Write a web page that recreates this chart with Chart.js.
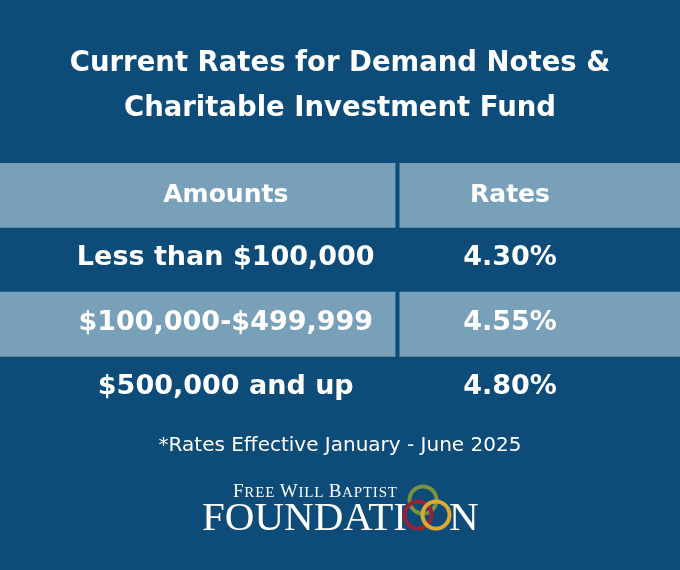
<!DOCTYPE html>
<html>
<head>
<meta charset="utf-8">
<script src="https://cdn.jsdelivr.net/npm/chart.js@4.4.1/dist/chart.umd.min.js"></script>
<style>
  html, body { margin: 0; padding: 0; background: #0d4b79; }
  #wrap { width: 680px; height: 570px; }
</style>
</head>
<body>
<div id="wrap"><canvas id="rateChart"></canvas></div>
<script>
// ---- data ----
const ROWS = ['header', 'tier1', 'tier2', 'tier3'];
const AMOUNTS = ['Amounts', 'Less than $100,000', '$100,000-$499,999', '$500,000 and up'];
const RATES = ['Rates', '4.30%', '4.55%', '4.80%'];
const TITLE_LINES = ['Current Rates for Demand Notes &', 'Charitable Investment Fund'];
const FOOTNOTE = '*Rates Effective January - June 2025';

// ---- layout / style ----
const BG = '#0d4b79';
const STRIPE = '#79a0b9';
const SPLIT = 0.581;      // left column end (fraction of width)
const GAP = 0.007;        // divider between the two columns
const AMT_CENTER = 0.332; // text centre of the amounts column
const RATE_CENTER = 0.75; // text centre of the rates column
const FONT = '"DejaVu Sans", Inter, sans-serif';
const SERIF = '"Liberation Serif", serif';

const stripeColors = ROWS.map((r, i) => i % 2 === 0 ? STRIPE : 'rgba(0,0,0,0)');

const cellText = {
  id: 'cellText',
  afterDatasetsDraw(chart) {
    const { ctx, scales: { x, y } } = chart;
    ctx.save();
    ctx.fillStyle = '#ffffff';
    ctx.textAlign = 'center';
    ctx.textBaseline = 'middle';
    ROWS.forEach((r, i) => {
      const py = y.getPixelForValue(i) + (i === 0 ? 0 : -1.5);
      ctx.font = (i === 0 ? '700 25px ' : '700 27px ') + FONT;
      ctx.fillText(AMOUNTS[i], x.getPixelForValue(AMT_CENTER), py);
      ctx.fillText(RATES[i], x.getPixelForValue(RATE_CENTER), py);
    });
    ctx.restore();
  }
};

const logo = {
  id: 'logo',
  afterDraw(chart) {
    const ctx = chart.ctx;
    ctx.save();
    ctx.fillStyle = '#ffffff';
    ctx.textBaseline = 'alphabetic';
    ctx.textAlign = 'left';

    // small caps line
    ctx.letterSpacing = '0.8px';
    const parts = [['F', 19], ['REE ', 15], ['W', 19], ['ILL ', 15], ['B', 19], ['APTIST', 15]];
    let lx = 233;
    parts.forEach(p => {
      ctx.font = '400 ' + p[1] + 'px ' + SERIF;
      ctx.fillText(p[0], lx, 497);
      lx += ctx.measureText(p[0]).width;
    });
    ctx.letterSpacing = '0px';

    ctx.font = '400 41px ' + SERIF;
    ctx.fillText('FOUNDATI', 202, 530);
    ctx.fillText('N', 449, 530);

    // rings in place of the O
    ctx.lineWidth = 4;
    const rings = [['#7b9140', 423, 500], ['#9a2236', 418, 515], ['#dcaa30', 436, 515]];
    rings.forEach(rg => {
      ctx.strokeStyle = rg[0];
      ctx.beginPath();
      ctx.arc(rg[1], rg[2], 13.5, 0, Math.PI * 2);
      ctx.stroke();
    });
    ctx.restore();
  }
};

new Chart(document.getElementById('rateChart'), {
  type: 'bar',
  data: {
    labels: ROWS,
    datasets: [
      {
        label: AMOUNTS[0],
        data: ROWS.map(() => [0, SPLIT]),
        backgroundColor: stripeColors,
        borderWidth: 0,
        grouped: false,
        barPercentage: 1,
        categoryPercentage: 1
      },
      {
        label: RATES[0],
        data: ROWS.map(() => [SPLIT + GAP, 1]),
        backgroundColor: stripeColors,
        borderWidth: 0,
        grouped: false,
        barPercentage: 1,
        categoryPercentage: 1
      }
    ]
  },
  options: {
    indexAxis: 'y',
    responsive: true,
    maintainAspectRatio: false,
    animation: false,
    layout: { padding: { top: 0, left: 0, right: 0, bottom: 112 } },
    scales: {
      x: { type: 'linear', min: 0, max: 1, display: false },
      y: { type: 'category', display: false, grid: { display: false } }
    },
    plugins: {
      legend: { display: false },
      tooltip: { enabled: false },
      title: {
        display: true,
        text: TITLE_LINES,
        color: '#ffffff',
        font: { family: FONT, size: 27.5, weight: 'bold', lineHeight: 1.636 },
        padding: { top: 41, bottom: 32 }
      },
      subtitle: {
        display: true,
        position: 'bottom',
        text: FOOTNOTE,
        color: '#ffffff',
        font: { family: FONT, size: 20, weight: 'normal', lineHeight: 1.2 },
        padding: { top: 13, bottom: 0 }
      }
    }
  },
  plugins: [cellText, logo]
});
</script>
</body>
</html>
